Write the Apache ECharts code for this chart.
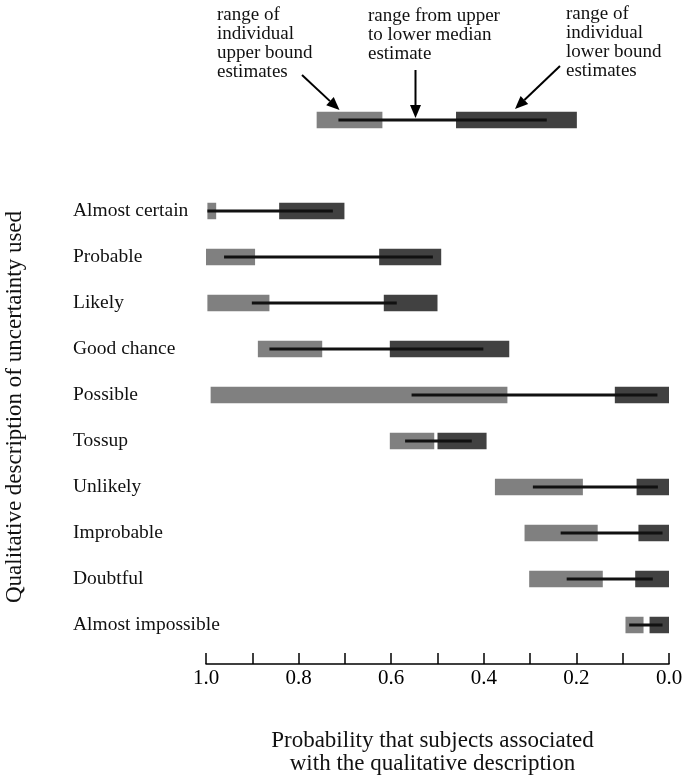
<!DOCTYPE html>
<html>
<head>
<meta charset="utf-8">
<script src="https://cdn.jsdelivr.net/npm/echarts@6/dist/echarts.min.js"></script>
<style>html,body{margin:0;padding:0;background:#fff}#c{width:687px;height:775px}</style>
</head>
<body>
<div id="c"></div>
<script>
// ---- data ----
const categories = ['Almost certain','Probable','Likely','Good chance','Possible','Tossup','Unlikely','Improbable','Doubtful','Almost impossible'];
// range of individual upper bound estimates (light bars)
const upperHigh = [0.997, 1.00, 0.997, 0.888, 0.990, 0.603, 0.376, 0.312, 0.302, 0.094];
const upperLow  = [0.978, 0.894, 0.863, 0.749, 0.349, 0.507, 0.186, 0.154, 0.143, 0.055];
// range of individual lower bound estimates (dark bars)
const lowerHigh = [0.842, 0.626, 0.616, 0.603, 0.117, 0.500, 0.070, 0.066, 0.073, 0.042];
const lowerLow  = [0.701, 0.492, 0.500, 0.345, 0.000, 0.394, 0.000, 0.000, 0.000, 0.000];
// range from upper to lower median estimate (line)
const medianUpper = [0.997, 0.961, 0.901, 0.863, 0.556, 0.570, 0.294, 0.234, 0.221, 0.086];
const medianLower = [0.726, 0.510, 0.588, 0.401, 0.025, 0.426, 0.024, 0.014, 0.035, 0.014];
// legend sample (schematic)
const sampleRow = ['sample'];
const sampleUpper = [0.761, 0.619];
const sampleLower = [0.460, 0.199];
const sampleMedian = [0.714, 0.264];
const xTickValues = [1.0, 0.8, 0.6, 0.4, 0.2, 0.0];

const LIGHT = '#808080', DARK = '#414141', LINE = '#111111';
const FONT = '"Liberation Serif", "DejaVu Serif", serif';

const mainData = categories.map((c, i) => [i, upperHigh[i], upperLow[i], lowerHigh[i], lowerLow[i], medianUpper[i], medianLower[i]]);
const sampleData = [[0, sampleUpper[0], sampleUpper[1], sampleLower[0], sampleLower[1], sampleMedian[0], sampleMedian[1]]];

function renderItem(params, api) {
  const idx = api.value(0);
  const h = 16.5;
  const pt = (v) => api.coord([v, idx]);
  const cy = pt(0)[1];
  const rect = (a, b, color) => {
    const x1 = pt(a)[0], x2 = pt(b)[0];
    return { type: 'rect', shape: { x: Math.min(x1, x2), y: cy - h / 2, width: Math.abs(x2 - x1), height: h }, style: { fill: color } };
  };
  const l1 = pt(api.value(5))[0], l2 = pt(api.value(6))[0];
  return {
    type: 'group',
    children: [
      rect(api.value(1), api.value(2), LIGHT),
      rect(api.value(3), api.value(4), DARK),
      { type: 'line', shape: { x1: l1, y1: cy, x2: l2, y2: cy }, style: { stroke: LINE, lineWidth: 3 } }
    ]
  };
}

const chart = echarts.init(document.getElementById('c'), null, { renderer: 'canvas' });

function arrow(x1, y1, x2, y2) {
  const ang = Math.atan2(y2 - y1, x2 - x1);
  const L = 13, W = 5.5;
  const bx = x2 - L * Math.cos(ang), by = y2 - L * Math.sin(ang);
  const px = -Math.sin(ang) * W, py = Math.cos(ang) * W;
  return [
    { type: 'line', shape: { x1, y1, x2: bx, y2: by }, style: { stroke: '#000', lineWidth: 2 } },
    { type: 'polygon', shape: { points: [[x2, y2], [bx + px, by + py], [bx - px, by - py]] }, style: { fill: '#000' } }
  ];
}

const annStyle = { font: '19px ' + FONT, fill: '#111', lineHeight: 19 };

chart.setOption({
  animation: false,
  backgroundColor: '#fff',
  grid: [
    { left: 206, right: 18, top: 188, bottom: 775 - 648, outerBoundsMode: 'none', containLabel: false },
    { left: 206, right: 18, top: 96, height: 48, outerBoundsMode: 'none', containLabel: false }
  ],
  xAxis: [
    {
      gridIndex: 0, type: 'value', min: 0, max: 1, interval: 0.1, inverse: true, offset: 16,
      axisLine: { show: true, lineStyle: { color: '#000', width: 1.5 } },
      axisTick: { show: true, inside: true, length: 11, lineStyle: { color: '#000', width: 1.5 } },
      splitLine: { show: false },
      axisLabel: {
        color: '#000', fontFamily: FONT, fontSize: 21, margin: 4,
        formatter: (v) => xTickValues.some(t => Math.abs(t - v) < 1e-6) ? v.toFixed(1) : ''
      },
      name: 'Probability that subjects associated\nwith the qualitative description',
      nameLocation: 'middle', nameGap: 65,
      nameTextStyle: { color: '#111', fontFamily: FONT, fontSize: 23, lineHeight: 23, padding: [0, 10, 0, 0] }
    },
    { gridIndex: 1, type: 'value', min: 0, max: 1, inverse: true, show: false }
  ],
  yAxis: [
    {
      gridIndex: 0, type: 'category', data: categories, inverse: true,
      axisLine: { show: false }, axisTick: { show: false }, splitLine: { show: false },
      axisLabel: { align: 'left', margin: 133, color: '#111', fontFamily: FONT, fontSize: 19.5 }
    },
    { gridIndex: 1, type: 'category', data: sampleRow, show: false }
  ],
  series: [
    { type: 'custom', xAxisIndex: 0, yAxisIndex: 0, renderItem, data: mainData, encode: { x: [1, 2, 3, 4, 5, 6], y: 0 } },
    { type: 'custom', xAxisIndex: 1, yAxisIndex: 1, renderItem, data: sampleData, encode: { x: [1, 2, 3, 4, 5, 6], y: 0 } }
  ],
  graphic: [
    { type: 'text', left: 217, top: 6, style: Object.assign({ text: 'range of\nindividual\nupper bound\nestimates' }, annStyle) },
    { type: 'text', left: 368, top: 7, style: Object.assign({ text: 'range from upper\nto lower median\nestimate' }, annStyle) },
    { type: 'text', left: 566, top: 5, style: Object.assign({ text: 'range of\nindividual\nlower bound\nestimates' }, annStyle) },
    ...arrow(302, 75, 339.5, 110),
    ...arrow(415.5, 70, 415.5, 118),
    ...arrow(560, 66, 515, 109),
    { type: 'text', x: 15, y: 407, rotation: Math.PI / 2,
      style: { text: 'Qualitative description of uncertainty used', font: '23px ' + FONT, fill: '#111', align: 'center', verticalAlign: 'middle' } }
  ]
});
</script>
</body>
</html>
